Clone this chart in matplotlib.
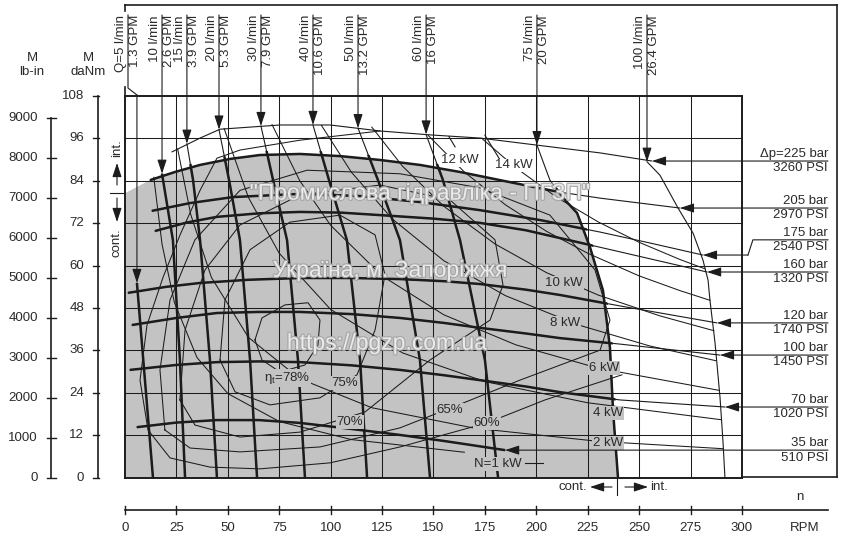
import matplotlib
matplotlib.use("Agg")
import matplotlib.pyplot as plt
import matplotlib.patheffects as pe
from matplotlib.patches import Polygon
from matplotlib.transforms import Affine2D, blended_transform_factory

plt.rcParams['font.family'] = ['Liberation Sans', 'DejaVu Sans']

# ---- values: n in RPM, M in daNm ----
pressure_bar = [225, 205, 175, 160, 120, 100, 70, 35]
pressure_psi = [3260, 2970, 2540, 1320, 1740, 1450, 1020, 510]
torque_n = [
    [22.9, 36.5, 46.2, 75.4, 99.7, 124.0, 148.3, 172.6, 200.3, 231.0, 256.2],
    [12.2, 24.3, 36.5, 51.1, 65.6, 85.1, 104.5, 124.0, 143.4, 162.9, 182.3, 201.8, 211.5, 231.0, 250.4, 269.8],
    [13.1, 31.6, 52.5, 85.1, 114.3, 143.4, 172.6, 201.8, 231.0, 255.3, 281.0],
    [14.6, 30.0, 44.7, 65.0, 85.1, 105.0, 124.0, 150.0, 172.6, 195.0, 211.5, 240.7, 283.0],
    [1.5, 20.0, 36.5, 60.0, 85.1, 110.0, 133.7, 155.0, 172.6, 195.0, 211.5, 240.7, 287.8],
    [3.4, 25.0, 44.7, 65.0, 85.1, 110.0, 133.7, 155.0, 172.6, 195.0, 211.5, 240.7, 289.3],
    [2.4, 25.0, 44.7, 65.0, 85.1, 110.0, 133.7, 155.0, 172.6, 195.0, 211.5, 240.7, 291.7],
    [5.8, 25.0, 44.7, 65.0, 85.1, 110.0, 133.7, 155.0, 167.7, 184.8],
]
torque_m = [
    [92.2, 96.1, 98.6, 99.8, 99.8, 98.1, 97.0, 96.1, 94.1, 91.9, 89.6],
    [84.2, 86.5, 88.5, 90.2, 91.3, 91.6, 91.0, 89.9, 88.5, 86.5, 84.2, 81.9, 80.8, 79.1, 77.7, 76.3],
    [75.5, 77.7, 79.4, 80.3, 79.7, 78.0, 75.7, 72.9, 69.5, 66.4, 63.0],
    [69.8, 72.2, 73.8, 74.8, 75.2, 75.0, 74.3, 73.3, 72.1, 70.0, 67.8, 63.9, 58.2],
    [52.3, 54.0, 55.1, 56.0, 56.5, 56.5, 56.2, 55.6, 54.8, 53.2, 51.7, 48.6, 43.8],
    [43.2, 45.2, 46.6, 46.9, 46.9, 46.3, 45.2, 43.8, 42.4, 40.8, 39.5, 37.8, 34.7],
    [30.5, 31.9, 32.7, 32.9, 32.7, 31.8, 30.5, 29.0, 27.6, 25.8, 24.2, 22.0, 20.0],
    [14.3, 15.6, 16.3, 16.3, 15.5, 13.8, 12.1, 10.4, 9.3, 7.8],
]

flow_lpm = [5, 10, 15, 20, 30, 40, 50, 60, 75, 100]
flow_gpm = ["1.3", "2.6", "3.9", "5.3", "7.9", "10.6", "13.2", "16", "20", "26.4"]
flow_n = [
    [5.8, 9.7, 13.6],
    [18.0, 23.3, 26.7, 29.2],
    [30.1, 33.1, 36.5, 41.3, 44.7],
    [45.7, 50.6, 55.9, 60.8, 64.2],
    [66.1, 72.0, 78.8, 84.1, 87.5],
    [91.4, 99.2, 107.9, 114.3, 117.7],
    [113.3, 123.0, 133.7, 143.4, 148.3],
    [146.4, 154.6, 162.9, 175.0, 181.4],
    [200.3, 206.6, 213.9, 219.8, 226.1, 232.4, 235.8, 237.3, 239.7],
    [253.8, 260.1, 268.9, 276.2, 281.0, 283.5, 284.4, 286.9, 289.3, 290.8, 291.7],
]
flow_m = [
    [55.1, 27.6, 0.0],
    [86.0, 67.2, 33.3, 0.0],
    [94.5, 84.2, 67.2, 33.3, 0.0],
    [98.5, 84.2, 67.2, 33.3, 0.0],
    [99.5, 84.2, 67.2, 33.3, 0.0],
    [99.8, 84.2, 67.2, 33.3, 0.0],
    [98.9, 84.2, 67.2, 33.3, 0.0],
    [97.1, 84.2, 67.2, 33.3, 0.0],
    [94.1, 84.2, 78.6, 74.9, 65.2, 53.0, 36.8, 19.0, 0.0],
    [89.4, 85.6, 76.3, 69.2, 61.6, 55.9, 50.3, 38.1, 22.8, 9.8, 0.0],
]

power_kw = [1, 2, 4, 6, 8, 10, 12, 14]
power_n = [
    [14, 18, 24, 35, 50, 75, 110, 165],
    [25.6, 32, 42, 60, 85, 120, 170, 230, 290.9],
    [48.2, 60, 75, 100, 135, 175, 225, 290],
    [71.5, 85, 100, 125, 155, 190, 230, 289],
    [95.5, 110, 130, 155, 185, 220, 255, 287.3],
    [120, 135, 155, 180, 205, 230, 260, 286.3],
    [147.5, 165, 185, 205, 225, 250, 270, 284.4],
    [173.5, 190, 210, 230, 250, 270, 282],
]
power_m = [
    [85.0, 66.1, 49.6, 34.0, 23.8, 15.9, 10.8, 7.2],
    [93.0, 74.4, 56.7, 39.7, 28.0, 19.8, 14.0, 10.3, 8.2],
    [98.8, 79.3, 63.5, 47.6, 35.3, 27.2, 21.2, 16.4],
    [99.9, 84.0, 71.4, 57.1, 46.1, 37.6, 31.0, 24.7],
    [99.7, 86.5, 73.2, 61.4, 51.5, 43.3, 37.3, 33.1],
    [99.2, 88.1, 76.8, 66.1, 58.0, 51.7, 45.8, 41.6],
    [96.8, 86.5, 77.2, 69.7, 63.5, 57.1, 52.9, 50.2],
    [96.0, 87.7, 79.3, 72.4, 66.6, 61.7, 59.1],
]

eff_pct = [78, 75, 70, 65, 60]
eff_n = [
    [63.2, 66.6, 77.8, 89.0, 94.8, 93.8, 87.5, 75.4, 66.6, 63.2],
    [46.2, 48.6, 60.8, 80.2, 104.5, 121.6, 126.4, 121.6, 112.8, 94.8, 70.5, 53.5, 46.2],
    [26.7, 29.2, 38.9, 55.9, 85.1, 124.0, 158.0, 179.9, 183.8, 177.5, 148.3, 116.7, 85.1, 55.9, 34.0, 26.7],
    [19.4, 17.0, 21.9, 34.0, 55.9, 88.5, 133.7, 172.6, 206.6, 228.5, 235.8, 231.0, 192.0, 164.3, 133.7,
     94.8, 55.9, 31.6, 19.4],
    [124.0, 85.1, 55.9, 44.7, 36.5, 26.7, 18.5, 10.7, 7.3, 11.2, 21.9, 41.3, 65.6, 99.7, 133.7, 176.0,
     204.2, 241.6],
]
eff_m = [
    [39.0, 45.2, 48.9, 49.5, 44.6, 37.5, 31.9, 29.9, 33.3, 39.0],
    [33.3, 50.3, 64.5, 72.3, 74.3, 68.7, 57.4, 41.8, 29.1, 22.6, 20.6, 24.3, 33.3],
    [22.0, 41.8, 58.8, 71.5, 80.0, 82.8, 78.6, 67.3, 54.5, 44.6, 33.3, 18.6, 12.9, 11.5, 14.9, 22.0],
    [13.5, 30.5, 50.3, 67.3, 81.3, 87.0, 86.0, 82.0, 74.3, 58.8, 44.6, 36.1, 27.6, 21.1, 14.1,
     8.7, 7.3, 8.4, 13.5],
    [98.1, 95.5, 92.7, 90.4, 81.3, 68.6, 56.7, 43.2, 27.6, 13.5, 5.6, 3.0, 2.5, 4.2, 8.7, 15.5,
     22.0, 29.1],
]

# continuous duty region (grey)
cont_n = [0, 0, 12.2, 24.3, 36.5, 51.1, 65.6, 85.1, 104.5, 124.0, 143.4, 162.9, 182.3, 201.8, 210.5,
          213.9, 219.8, 226.1, 232.4, 235.8, 237.3, 239.7]
cont_m = [0, 80.5, 84.2, 86.5, 88.5, 90.2, 91.3, 91.6, 91.0, 89.9, 88.5, 86.5, 84.2, 81.9, 81.1,
          78.6, 74.9, 65.2, 53.0, 36.8, 19.0, 0]

lbin_ticks = list(range(0, 9001, 1000))
danm_ticks = list(range(0, 109, 12))
rpm_ticks = list(range(0, 301, 25))
LBIN_TO_DANM = 0.0112985

# label positions
power_lbl = [(181.4, 3.9), (234.8, 9.8), (234.8, 18.3), (232.9, 31.0), (213.9, 43.8),
             (213.5, 55.1), (162.9, 89.8), (189.1, 88.4)]
eff_lbl = [(78.8, 28.2), (107.0, 26.8), (109.4, 15.8), (158.0, 19.2), (176.0, 15.5)]

GREY = '#c3c3c3'
INK = '#1c1c1c'
TXT = '#2a2a2a'
FS = 9.5

fig = plt.figure(figsize=(8.45, 5.4), dpi=100)
ax = fig.add_axes([125 / 845, 62.3 / 540, 617 / 845, 381.7 / 540])
ax.set_xlim(0, 300)
ax.set_ylim(0, 108)
ax.set_xticks([])
ax.set_yticks([])
for sp in ax.spines.values():
    sp.set_linewidth(1.4)
    sp.set_color(INK)
    sp.set_zorder(6)

# pixel based transforms for the decorations around the plot
pix = Affine2D().scale(1 / 845, -1 / 540).translate(0, 1) + fig.transFigure
x_pix = blended_transform_factory(pix, ax.transData)
y_pix = blended_transform_factory(ax.transData, pix)

ax.add_patch(Polygon(list(zip(cont_n, cont_m)), closed=True, fc=GREY, ec='none', zorder=0))
for v in rpm_ticks[1:-1]:
    ax.axvline(v, color=INK, lw=0.75, zorder=1)
for v in danm_ticks[1:-1]:
    ax.axhline(v, color=INK, lw=0.75, zorder=1)

clip = Polygon(list(zip(cont_n, cont_m)), closed=True,
               transform=Affine2D().scale(1.006, 1.012) + ax.transData)

# thin curves
for n, m in zip(eff_n, eff_m):
    ax.plot(n, m, color=INK, lw=0.75, zorder=2, solid_joinstyle='round')
for n, m in zip(power_n, power_m):
    ax.plot(n, m, color=INK, lw=0.75, zorder=2)
for n, m in zip(torque_n + flow_n, torque_m + flow_m):
    ax.plot(n, m, color=INK, lw=0.8, zorder=2)
    thick, = ax.plot(n, m, color=INK, lw=1.8, zorder=3, solid_capstyle='butt')
    thick.set_clip_path(clip)


def arrow(tail, tip, tc=None, xc=None):
    ax.annotate('', xy=tip, xycoords=xc or ax.transData, xytext=tail,
                textcoords=tc or ax.transData,
                arrowprops=dict(arrowstyle='-|>,head_length=0.85,head_width=0.28',
                                color=INK, lw=0.8, shrinkA=0, shrinkB=0),
                annotation_clip=False, zorder=5)


# flow labels on top
for i, (q, g) in enumerate(zip(flow_lpm, flow_gpm)):
    n0, m0 = flow_n[i][0], flow_m[i][0]
    if q == 5:
        lx = 1.46
        ax.plot([lx, lx, n0], [15, 88, 95], color=INK, lw=0.8, transform=y_pix, clip_on=False)
        arrow((n0, 95), (n0, m0), tc=y_pix)
        left = "Q=5 l/min"
    else:
        lx = n0
        arrow((n0, 15), (n0, m0), tc=y_pix)
        left = f"{q} l/min"
    ax.text(lx - 3.4, 15, left, rotation=90, ha='center', va='top', fontsize=FS,
            color=TXT, transform=y_pix)
    ax.text(lx + 3.4, 15, f"{g} GPM", rotation=90, ha='center', va='top', fontsize=FS,
            color=TXT, transform=y_pix)

# pressure labels on the right
XR = 341.8
for i, (b, p) in enumerate(zip(pressure_bar, pressure_psi)):
    nt, mt = torque_n[i][-1], torque_m[i][-1]
    ly = mt
    if b == 175:
        ly = 67.3
        ax.plot([XR, 305.3, 302.9], [ly, ly, mt], color=INK, lw=0.8, clip_on=False)
        arrow((302.9, mt), (nt, mt))
    else:
        arrow((XR, mt), (nt, mt))
    top = "\u0394p=225 bar" if b == 225 else f"{b} bar"
    ax.text(828, ly + 0.2, top, ha='right', va='bottom', fontsize=FS, color=TXT, transform=x_pix)
    ax.text(828, ly - 0.4, f"{p} PSI", ha='right', va='top', fontsize=FS, color=TXT, transform=x_pix)

# power labels
for k, (ln, lm) in zip(power_kw, power_lbl):
    s = "N=1 kW" if k == 1 else f"{k} kW"
    fc = 'white' if k >= 12 else GREY
    ax.text(ln, lm, s, ha='center', va='center', fontsize=FS, color=TXT, zorder=4,
            bbox=dict(boxstyle='square,pad=0.05', fc=fc, ec='none'))
ax.plot([194.5, 203.2], [4.2, 4.2], color=INK, lw=0.8, zorder=3)
ax.plot([157.5, 160.5], [96.5, 93.6], color=INK, lw=0.8, zorder=3)
ax.plot([175.0, 182.8], [96.9, 89.5], color=INK, lw=0.8, zorder=3)

# efficiency labels
for e, (ln, lm) in zip(eff_pct, eff_lbl):
    s = "\u03b7$_\\mathregular{t}$=78%" if e == 78 else f"{e}%"
    ax.text(ln, lm, s, ha='center', va='center', fontsize=FS, color=TXT, zorder=4,
            bbox=dict(boxstyle='square,pad=0.05', fc=GREY, ec='none'))

# watermark
wm = [('"Промислова гідравліка - ПГЗП"', 143.4, 80.5), ('Україна, м. Запоріжжя', 128.8, 58.7),
      ('https://pgzp.com.ua', 127.4, 38.1)]
for s, wx, wy in wm:
    ax.text(wx, wy, s, ha='center', va='center', fontsize=16.5, color='#f2f2f2', alpha=0.9, zorder=7,
            path_effects=[pe.withStroke(linewidth=1.8, foreground='#a5a5a5')])

# outer frame
for xs, ys in [([125, 837], [5, 5]), ([837, 837], [5, 477]), ([742, 837], [477, 477]),
               ([125, 125], [5, 11]), ([125, 125], [87, 96])]:
    fig.add_artist(plt.Line2D(xs, ys, color=INK, lw=1.2, transform=pix))

# left axes (lb-in and daNm)
ax.plot([51, 51], [0, 9000 * LBIN_TO_DANM], color=INK, lw=1.2, transform=x_pix, clip_on=False)
for v in lbin_ticks:
    y = v * LBIN_TO_DANM
    ax.plot([47, 56], [y, y], color=INK, lw=1.0, transform=x_pix, clip_on=False)
    ax.text(38, y, str(v), ha='right', va='center', fontsize=FS, color=TXT, transform=x_pix)
ax.plot([98, 98], [0, 108], color=INK, lw=1.2, transform=x_pix, clip_on=False)
for v in danm_ticks:
    ax.plot([93, 99], [v, v], color=INK, lw=1.0, transform=x_pix, clip_on=False)
    ax.text(84, v, str(v), ha='right', va='center', fontsize=FS, color=TXT, transform=x_pix)
for s, x, y in [("M", 32, 58), ("lb-in", 32, 72), ("M", 88, 58), ("daNm", 88, 72)]:
    fig.text(x, y, s, ha='center', va='center', fontsize=FS, color=TXT, transform=pix)

# x axis below
ax.plot([0, XR], [510, 510], color=INK, lw=1.2, transform=y_pix, clip_on=False)
for v in rpm_ticks:
    ax.plot([v, v], [506, 514], color=INK, lw=1.0, transform=y_pix, clip_on=False)
    ax.text(v, 528, str(v), ha='center', va='center', fontsize=FS, color=TXT, transform=y_pix)
ax.text(328.2, 497, "n", ha='center', va='center', fontsize=FS, color=TXT, transform=y_pix)
ax.text(330.6, 528, "RPM", ha='center', va='center', fontsize=FS, color=TXT, transform=y_pix)

# cont. / int. markers
ax.text(224.6, 487, "cont.", ha='right', va='center', fontsize=FS, color=TXT, transform=y_pix)
arrow((236.8, 487), (226.1, 487), tc=y_pix, xc=y_pix)
ax.plot([239.2, 239.2], [477, 495], color=INK, lw=0.8, transform=y_pix, clip_on=False)
arrow((243.1, 487), (254.3, 487), tc=y_pix, xc=y_pix)
ax.text(255.3, 487, "int.", ha='left', va='center', fontsize=FS, color=TXT, transform=y_pix)

fig.text(117, 148, "int.", rotation=90, ha='center', va='center', fontsize=FS, color=TXT, transform=pix)
arrow((117, 185), (117, 163), tc=pix, xc=pix)
fig.add_artist(plt.Line2D([110, 125], [193, 193], color=INK, lw=0.8, transform=pix))
arrow((117, 198), (117, 222), tc=pix, xc=pix)
fig.text(117, 243, "cont.", rotation=90, ha='center', va='center', fontsize=FS, color=TXT, transform=pix)

fig.savefig("out.png", dpi=100, facecolor='white')
